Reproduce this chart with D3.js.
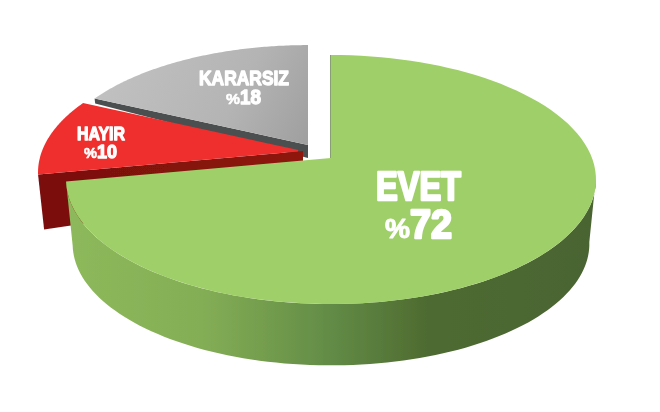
<!DOCTYPE html>
<html>
<head>
<meta charset="utf-8">
<script src="https://cdn.jsdelivr.net/npm/d3@7"></script>
<style>
body { margin: 0; background: #fff; }
svg { display: block; }
text { font-family: "Liberation Sans Narrow", "Liberation Sans", sans-serif; font-weight: bold; fill: #fff; stroke: #fff; stroke-linejoin: round; text-anchor: start; }
</style>
</head>
<body>
<div id="chart"></div>
<script>
// data
var categories = ["EVET", "HAYIR", "KARARSIZ"];
var values = [72, 10, 18];

// how each slice sits on the page
var layout = {
    EVET:     { x0: 331, y0: 158, size: 1,    fill: "#9fcf67" },
    HAYIR:    { x0: 303, y0: 151, size: 1,    fill: "#ef2f2e", inner: 0.02 },
    KARARSIZ: { x0: 308, y0: 145, size: 0.97, fill: "url(#greyFace)" }
};

var labels = [
    { name: "EVET",     x: 376, y: 200, w: 85, font: 41, value: "72", px: 385, py: 238, pw: 25, pfont: 27, vx: 410, vw: 42, vfont: 41, sw: 2.6 },
    { name: "KARARSIZ", x: 199, y: 85,  w: 90, font: 20, value: "18", px: 226, py: 104, pw: 14, pfont: 14, vx: 240, vw: 21, vfont: 20, sw: 1.3 },
    { name: "HAYIR",    x: 77,  y: 140, w: 48, font: 19, value: "10", px: 84,  py: 158, pw: 13, pfont: 14, vx: 97,  vw: 20, vfont: 19, sw: 1.3 }
];

var svg = d3.select("#chart").append("svg").attr("width", 660).attr("height", 412);
var defs = svg.append("defs");

// the picture is a soft jpeg, so no razor edges
defs.append("filter").attr("id", "soft")
    .attr("filterUnits", "userSpaceOnUse").attr("x", 0).attr("y", 0).attr("width", 660).attr("height", 412)
    .append("feGaussianBlur").attr("stdDeviation", 0.4);
var g = svg.append("g").attr("filter", "url(#soft)");

function gradient(id, stops, x1, y1, x2, y2) {
    var lg = defs.append("linearGradient").attr("id", id)
        .attr("gradientUnits", "userSpaceOnUse")
        .attr("x1", x1).attr("y1", y1).attr("x2", x2).attr("y2", y2);
    stops.forEach(function (s) {
        lg.append("stop").attr("offset", s[0]).attr("stop-color", s[1]);
    });
}

gradient("greenWall", [[0, "#8db95b"], [0.25, "#84ae55"], [0.5, "#628b46"], [0.68, "#4e6b30"], [1, "#4a6430"]], 70, 0, 595, 0);
gradient("redWall", [[0, "#7a1010"], [1, "#8e1410"]], 40, 0, 300, 0);
gradient("greyFace", [[0, "#c0c0c0"], [0.6, "#b4b4b4"], [1, "#a0a0a0"]], 120, 60, 300, 150);

// tilted circle : the centre of the pie sits above the middle of the ellipse
var k = 0.1727;
var sx = d3.scaleLinear().domain([-1, 1]).range([-261, 261]);
var sy = d3.scaleLinear().domain([-1, 1]).range([120.8, -120.8]);

function project(angle, r, o, dy, grow) {
    var u = r * Math.sin(angle), v = r * Math.cos(angle), w = 1 + k * v;
    var s = o.size * (grow || 1);
    return [o.x0 + s * sx(u) / w, o.y0 + s * sy(v) / w + (dy || 0)];
}

function arcPoints(a0, a1, o, dy, grow) {
    return d3.range(0, 101).map(function (i) {
        return project(a0 + (a1 - a0) * i / 100, 1, o, dy, grow);
    });
}

var line = d3.line();
var pie = d3.pie().sort(null);
var slices = pie(values);

function face(s, o) {
    var inner = o.inner || 0;
    var pts = arcPoints(s.startAngle, s.endAngle, o);
    pts.unshift(project(s.startAngle, inner, o));
    if (inner) pts.push(project(s.endAngle, inner, o));
    return line(pts) + "Z";
}

// a flat wall along one straight edge of a slice
function edgeWall(angle, o, rimDepth, apexDepth) {
    var rim = project(angle, 1, o), apex = project(angle, 0, o);
    return line([apex, rim, [rim[0] + rimDepth * 0.11, rim[1] + rimDepth], [apex[0], apex[1] + apexDepth]]) + "Z";
}

var green = slices[0], red = slices[1], grey = slices[2];

// back slices first
g.append("path").attr("d", edgeWall(grey.startAngle, layout.KARARSIZ, 5, 13)).attr("fill", "#4c4f4f");
g.append("path").attr("d", face(grey, layout.KARARSIZ)).attr("fill", layout.KARARSIZ.fill);

g.append("path").attr("d", edgeWall(red.startAngle, layout.HAYIR, 55, 40)).attr("fill", "url(#redWall)");
g.append("path").attr("d", face(red, layout.HAYIR)).attr("fill", layout.HAYIR.fill);

// green wall, the lower ring is a bit narrower
var a0 = Math.PI * 0.55, a1 = green.endAngle;
var wall = arcPoints(a0, a1, layout.EVET).concat(arcPoints(a1, a0, layout.EVET, 65, 0.975));
g.append("path").attr("d", line(wall) + "Z").attr("fill", "url(#greenWall)");

// thin dark edge on the cut of the green slice
g.append("path").attr("d", line([project(0, 1, layout.EVET), project(0, 0, layout.EVET)]))
    .attr("stroke", "#5f7f45").attr("stroke-width", 1.5).attr("fill", "none");
g.append("path").attr("d", face(green, layout.EVET)).attr("fill", layout.EVET.fill);

// labels
labels.forEach(function (d) {
    function put(txt, x, y, w, size, sw) {
        g.append("text").attr("x", x).attr("y", y)
            .attr("textLength", w).attr("lengthAdjust", "spacingAndGlyphs")
            .attr("font-size", size).attr("stroke-width", sw)
            .text(txt);
    }
    put(d.name, d.x, d.y, d.w, d.font, d.sw);
    put("%", d.px, d.py, d.pw, d.pfont, d.sw * 0.4);
    put(d.value, d.vx, d.py, d.vw, d.vfont, d.sw);
});
</script>
</body>
</html>
